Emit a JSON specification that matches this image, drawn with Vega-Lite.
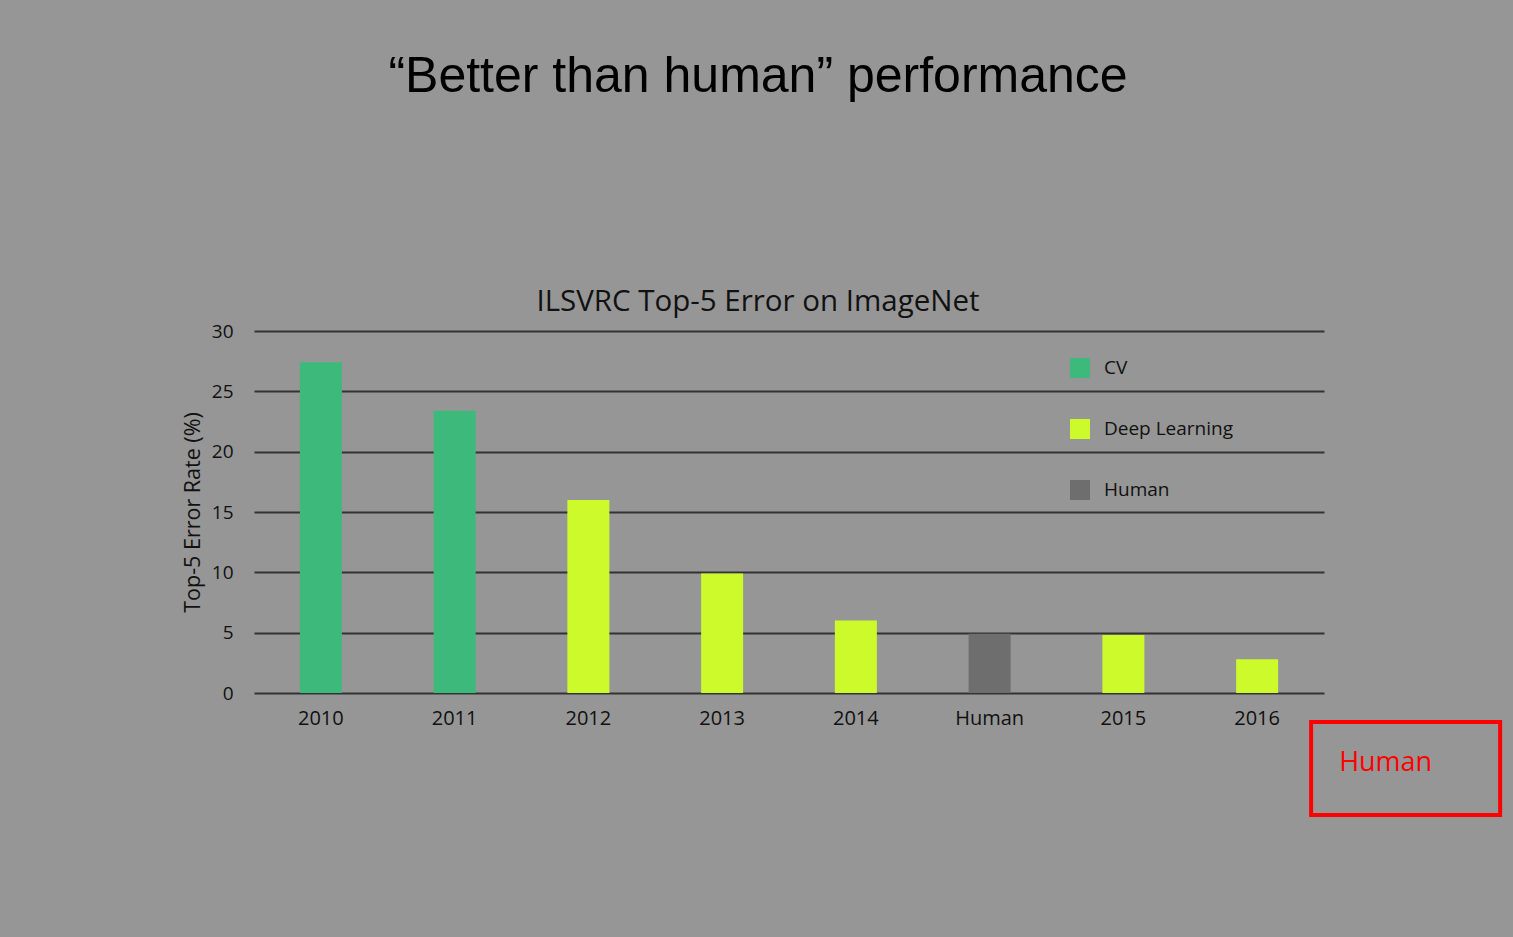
{
  "$schema": "https://vega.github.io/schema/vega-lite/v6.json",
  "width": 1070,
  "height": 362,
  "autosize": {"type": "none"},
  "padding": {"left": 254, "top": 331, "right": 189, "bottom": 244},
  "background": "#969696",
  "config": {"view": {"stroke": null}},
  "title": {
    "text": "“Better than human” performance",
    "subtitle": "ILSVRC Top-5 Error on ImageNet",
    "anchor": "middle",
    "frame": "group",
    "dx": -31,
    "font": "Liberation Sans",
    "fontSize": 50,
    "fontWeight": "normal",
    "color": "#000000",
    "subtitleFont": "Open Sans",
    "subtitleFontSize": 29.5,
    "subtitleColor": "#111111",
    "subtitlePadding": 186,
    "offset": 6
  },
  "data": {
    "values": [
      {"category": "2010", "value": 27.4, "type": "CV"},
      {"category": "2011", "value": 23.4, "type": "CV"},
      {"category": "2012", "value": 16.0, "type": "Deep Learning"},
      {"category": "2013", "value": 9.9, "type": "Deep Learning"},
      {"category": "2014", "value": 6.0, "type": "Deep Learning"},
      {"category": "Human", "value": 4.9, "type": "Human"},
      {"category": "2015", "value": 4.8, "type": "Deep Learning"},
      {"category": "2016", "value": 2.8, "type": "Deep Learning"}
    ]
  },
  "encoding": {
    "x": {
      "field": "category",
      "type": "nominal",
      "sort": null,
      "scale": {"paddingInner": 0.686, "paddingOuter": 0.343},
      "axis": {
        "title": null,
        "labelAngle": 0,
        "domain": false,
        "ticks": false,
        "labelPadding": 15,
        "labelFont": "Open Sans",
        "labelFontSize": 20,
        "labelColor": "#111111"
      }
    },
    "y": {
      "field": "value",
      "type": "quantitative",
      "scale": {"domain": [0, 30], "nice": false},
      "axis": {
        "values": [0, 5, 10, 15, 20, 25, 30],
        "grid": true,
        "gridColor": "#333333",
        "gridWidth": 2,
        "domain": false,
        "ticks": false,
        "labelPadding": 21,
        "labelFont": "Open Sans",
        "labelFontSize": 19,
        "labelColor": "#111111",
        "title": "Top-5 Error Rate (%)",
        "titleFont": "Open Sans",
        "titleFontSize": 21.5,
        "titleFontWeight": "normal",
        "titleColor": "#111111",
        "titlePadding": 7
      }
    }
  },
  "layer": [
    {
      "mark": {"type": "bar"},
      "encoding": {
        "color": {
          "field": "type",
          "type": "nominal",
          "scale": {
            "domain": ["CV", "Deep Learning", "Human"],
            "range": ["#3dba7b", "#cdfa2b", "#6e6e6e"]
          },
          "legend": {
            "orient": "none",
            "legendX": 816,
            "legendY": 27,
            "title": null,
            "padding": 0,
            "symbolType": "square",
            "symbolSize": 400,
            "symbolStrokeWidth": 0,
            "symbolOpacity": 1,
            "labelFont": "Open Sans",
            "labelFontSize": 19,
            "labelColor": "#111111",
            "labelOffset": 14,
            "rowPadding": 41
          }
        }
      }
    },
    {
      "data": {"values": [{"category": "2016", "value": 0, "note": "Human"}]},
      "mark": {
        "type": "point",
        "shape": "M-1,-0.492H1V0.492H-1Z",
        "size": 35721,
        "filled": false,
        "stroke": "#ff0000",
        "strokeWidth": 4,
        "opacity": 1,
        "xOffset": 148.5,
        "yOffset": 75.5
      }
    },
    {
      "data": {"values": [{"category": "2016", "value": 0, "note": "Human"}]},
      "mark": {
        "type": "text",
        "align": "left",
        "baseline": "middle",
        "font": "Open Sans",
        "fontSize": 27,
        "color": "#ff0000",
        "xOffset": 82,
        "yOffset": 70
      },
      "encoding": {"text": {"field": "note"}}
    }
  ]
}
